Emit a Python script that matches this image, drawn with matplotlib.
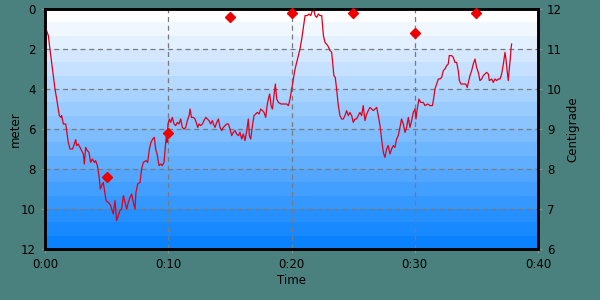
import numpy as np
import matplotlib
matplotlib.use("Agg")
import matplotlib.pyplot as plt
from matplotlib.colors import LinearSegmentedColormap

# ---- data ----
depth_time = [0.08, 0.27, 0.4, 0.54, 0.68, 0.81, 0.95, 1.08, 1.16, 1.3, 1.35, 1.49, 1.68, 1.78, 1.89,
              2.03, 2.24, 2.38, 2.49, 2.57, 2.7, 2.84, 2.97, 3.11, 3.19, 3.3, 3.43, 3.57, 3.7, 3.84,
              4.0, 4.11, 4.25, 4.38, 4.49, 4.6, 4.73, 4.81, 4.95, 5.14, 5.33, 5.41, 5.54, 5.68, 5.81,
              5.95, 6.08, 6.22, 6.36, 6.49, 6.63, 6.76, 6.9, 7.03, 7.17, 7.3, 7.38, 7.52, 7.71, 7.84,
              7.98, 8.2, 8.33, 8.47, 8.6, 8.74, 8.87, 8.98, 9.12, 9.25, 9.39, 9.52, 9.66, 9.77, 9.85,
              9.9, 9.98, 10.09, 10.2, 10.33, 10.47, 10.6, 10.74, 10.87, 11.01, 11.14, 11.28, 11.42,
              11.55, 11.69, 11.77, 11.88, 12.04, 12.17, 12.31, 12.39, 12.5, 12.63, 12.77, 12.9, 13.04,
              13.17, 13.31, 13.44, 13.58, 13.66, 13.8, 13.93, 14.07, 14.2, 14.34, 14.47, 14.61, 14.74,
              14.88, 15.01, 15.15, 15.28, 15.42, 15.55, 15.69, 15.82, 15.96, 16.09, 16.23, 16.37, 16.5,
              16.58, 16.69, 16.83, 16.96, 17.1, 17.23, 17.37, 17.5, 17.64, 17.77, 17.91, 18.02, 18.12,
              18.23, 18.34, 18.45, 18.58, 18.69, 18.8, 18.94, 19.15, 19.42, 19.61, 19.75, 19.88, 20.02,
              20.15, 20.29, 20.42, 20.56, 20.69, 20.83, 20.96, 21.1, 21.29, 21.42, 21.56, 21.69, 21.83,
              21.91, 22.05, 22.18, 22.32, 22.45, 22.59, 22.72, 22.94, 23.13, 23.26, 23.34, 23.44, 23.55,
              23.66, 23.8, 23.93, 24.07, 24.2, 24.34, 24.47, 24.61, 24.74, 24.88, 25.01, 25.15, 25.28,
              25.42, 25.55, 25.69, 25.82, 25.96, 26.1, 26.23, 26.37, 26.5, 26.64, 26.77, 26.91, 27.04,
              27.18, 27.31, 27.45, 27.58, 27.72, 27.85, 27.99, 28.12, 28.26, 28.39, 28.53, 28.66, 28.8,
              28.93, 29.07, 29.21, 29.34, 29.48, 29.61, 29.75, 29.88, 30.02, 30.1, 30.2, 30.34, 30.48,
              30.69, 30.83, 31.05, 31.24, 31.43, 31.53, 31.64, 31.78, 31.91, 32.05, 32.18, 32.32, 32.45,
              32.59, 32.72, 32.8, 32.99, 33.13, 33.26, 33.4, 33.53, 33.62, 33.75, 33.94, 34.13, 34.26,
              34.35, 34.48, 34.62, 34.75, 34.89, 35.02, 35.16, 35.29, 35.43, 35.56, 35.7, 35.83, 35.97,
              36.05, 36.24, 36.37, 36.51, 36.65, 36.78, 36.92, 37.05, 37.19, 37.32, 37.4, 37.51, 37.59,
              37.67, 37.75, 37.81, 37.86]
depth_m = [1.0, 1.33, 2.0, 2.67, 3.33, 4.0, 4.5, 5.0, 5.33, 5.42, 5.33, 5.75, 5.75, 6.17, 6.67,
           7.0, 7.0, 6.75, 6.53, 6.83, 6.75, 6.92, 7.08, 7.25, 7.75, 6.92, 7.08, 7.17, 7.67, 7.5,
           7.67, 7.58, 7.83, 8.33, 9.0, 8.83, 8.67, 9.0, 9.58, 9.67, 9.83, 10.0, 10.25, 9.58, 10.58,
           10.33, 10.08, 10.0, 9.33, 9.67, 10.0, 9.67, 9.42, 9.25, 9.67, 10.0, 9.17, 8.75, 8.67, 8.0,
           7.67, 7.58, 7.67, 7.0, 6.67, 6.5, 6.42, 7.0, 7.33, 7.83, 7.75, 7.83, 7.67, 6.83, 6.33,
           6.67, 5.75, 5.5, 5.67, 5.42, 5.75, 5.83, 5.67, 5.75, 5.5, 5.92, 6.0, 5.92,
           5.58, 5.33, 5.0, 5.42, 5.42, 5.5, 5.75, 5.92, 5.75, 5.83, 5.75, 5.58, 5.42,
           5.5, 5.58, 5.75, 5.58, 5.75, 5.92, 5.67, 5.5, 5.92, 6.08, 5.92, 5.83, 5.75,
           5.75, 6.0, 6.33, 6.17, 6.08, 6.25, 6.33, 6.17, 6.5, 6.25, 6.58, 6.08, 5.5,
           6.33, 6.5, 5.83, 5.33, 5.25, 5.17, 5.25, 5.0, 5.08, 5.17, 5.42, 4.83, 4.5,
           4.25, 4.83, 5.0, 4.33, 3.75, 4.5, 4.67, 4.75, 4.75, 4.75, 4.83, 4.5, 4.0,
           3.5, 3.0, 2.67, 2.33, 2.0, 1.5, 0.92, 0.33, 0.33, 0.25, 0.33, 0.08, 0.08,
           0.33, 0.42, 0.25, 0.33, 0.33, 1.33, 1.67, 1.83, 2.08, 2.17, 2.67, 3.33, 3.42,
           4.0, 4.83, 5.33, 5.5, 5.5, 5.33, 5.08, 5.33, 5.17, 5.33, 5.67, 5.5, 5.5,
           5.33, 5.17, 5.33, 4.83, 5.58, 5.25, 5.08, 4.92, 5.0, 5.08, 5.0, 4.92, 5.33,
           5.83, 6.5, 7.17, 7.42, 7.0, 6.83, 7.25, 7.0, 6.83, 6.92, 6.5, 6.33, 5.92,
           5.5, 5.75, 6.17, 5.92, 5.42, 5.92, 5.58, 5.17, 5.0, 5.5, 5.0, 4.5, 4.67,
           4.67, 4.83, 4.75, 4.83, 4.83, 4.5, 4.0, 3.75, 3.5, 3.5, 3.42, 3.08, 3.0,
           2.83, 2.75, 2.33, 2.33, 2.42, 2.67, 2.67, 3.08, 3.58, 3.75, 3.75, 3.75, 3.92,
           3.67, 3.33, 3.08, 2.75, 2.5, 2.92, 3.17, 3.58, 3.5, 3.33, 3.25, 3.17, 3.25,
           3.58, 3.5, 3.67, 3.5, 3.58, 3.5, 3.5, 3.25, 2.75, 2.17, 2.5, 3.17, 3.58,
           3.0, 2.5, 2.0, 1.75]

temp_time = [5, 10, 15, 20, 25, 30, 35]
temp_c = [7.8, 8.9, 11.8, 11.9, 11.9, 11.4, 11.9]

x_ticks = [0, 10, 20, 30, 40]
x_labels = ["0:00", "0:10", "0:20", "0:30", "0:40"]
depth_ticks = [0, 2, 4, 6, 8, 10, 12]
temp_ticks = [6, 7, 8, 9, 10, 11, 12]

# ---- figure ----
bg = "#4a807d"
fig = plt.figure(figsize=(6, 3), dpi=100, facecolor=bg)
ax = fig.add_axes([45/600, 1 - 249/300, (538-45)/600, (249-9)/300])

# gradient background (banded)
nb = 18
cmap = LinearSegmentedColormap.from_list("g", ["#ffffff", "#0a82ff"])
grad = np.linspace(0, 1, nb).reshape(-1, 1)
ax.imshow(grad, aspect="auto", cmap=cmap, extent=[0, 40, 12, 0],
          interpolation="nearest", zorder=0)

ax.set_xlim(0, 40)
ax.set_ylim(12, 0)
ax.set_xticks(x_ticks)
ax.set_xticklabels(x_labels)
ax.set_yticks(depth_ticks)
ax.grid(True, color="#7a7a7a", linestyle=(0, (4, 3)), linewidth=0.9, zorder=1)

ax.plot(depth_time, depth_m, color="#e0001a", linewidth=0.9, zorder=3)

ax2 = ax.twinx()
ax2.set_ylim(6, 12)
ax2.set_yticks(temp_ticks)
ax2.plot(temp_time, temp_c, linestyle="none", marker="D", markersize=5,
         color="#ee0000", zorder=4, clip_on=False)

for a in (ax, ax2):
    for s in a.spines.values():
        s.set_color("black")
        s.set_linewidth(1.8)
    a.tick_params(colors="#909090", labelcolor="black", labelsize=8.5, length=3, width=0.8)

ax.set_xlabel("Time", fontsize=8.5, labelpad=2)
ax.set_ylabel("meter", fontsize=8.5, labelpad=-1)
ax2.set_ylabel("Centigrade", fontsize=8.5, labelpad=3)

fig.savefig("out.png", dpi=100, facecolor=bg)
